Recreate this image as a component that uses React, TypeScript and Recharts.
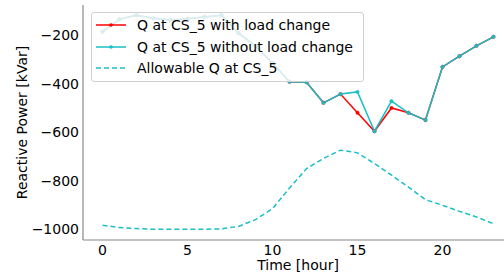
import { Label, Legend, Line, LineChart, XAxis, YAxis } from "recharts";

const hours = [0, 1, 2, 3, 4, 5, 6, 7, 8, 9, 10, 11, 12, 13, 14, 15, 16, 17, 18, 19, 20, 21, 22, 23];
const withChange = [-186, -134, -118, -131, -138, -133, -125, -118, -192, -245, -315, -392, -394, -479, -443, -520, -596, -500, -520, -550, -331, -287, -244, -207];
const withoutChange = [-186, -134, -118, -131, -138, -133, -125, -118, -192, -245, -315, -392, -394, -479, -443, -434, -596, -472, -520, -550, -331, -287, -244, -207];
const allowable = [-983, -993, -997, -1000, -1000, -1000, -1000, -998, -988, -960, -915, -830, -750, -708, -674, -685, -729, -777, -826, -878, -901, -926, -949, -977];
const xTicks = [0, 5, 10, 15, 20];
const yTicks = [-1000, -800, -600, -400, -200];

const RED = "#ff0000";
const CYAN = "#17bfc7";
const font = "'DejaVu Sans', sans-serif";

const legendItems = [
  { name: "Q at CS_5 with load change", color: RED, dash: undefined as string | undefined, dot: true },
  { name: "Q at CS_5 without load change", color: CYAN, dash: undefined, dot: true },
  { name: "Allowable Q at CS_5", color: CYAN, dash: "5 3", dot: false },
];

const data = hours.map((h, i) => ({
  hour: h,
  withChange: withChange[i],
  withoutChange: withoutChange[i],
  allowable: allowable[i],
}));

function LegendBox() {
  return (
    <div
      style={{
        width: 271,
        height: 67,
        background: "rgba(255,255,255,0.8)",
        border: "1px solid #d0d0d0",
        borderRadius: 3,
        paddingTop: 1,
        boxSizing: "content-box",
        fontFamily: font,
        fontSize: 14,
        color: "#000",
      }}
    >
      {legendItems.map((it) => (
        <div key={it.name} style={{ display: "flex", alignItems: "center", height: 21.7, whiteSpace: "nowrap" }}>
          <svg width={31} height={10} style={{ marginLeft: 3, marginRight: 11 }}>
            <line x1={1} x2={31} y1={5} y2={5} stroke={it.color} strokeWidth={1.5} strokeDasharray={it.dash} />
            {it.dot && <circle cx={16} cy={5} r={1.8} fill={it.color} />}
          </svg>
          <span>{it.name}</span>
        </div>
      ))}
    </div>
  );
}

export default function App() {
  return (
    <div style={{ position: "absolute", left: 0, top: 0, width: 504, height: 275, overflow: "hidden", background: "#fff" }}>
      <LineChart width={520} height={275} data={data} margin={{ top: 5, right: 7, left: 0, bottom: 0 }}>
        <XAxis
          xAxisId="top"
          orientation="top"
          dataKey="hour"
          type="number"
          domain={[-1.15, 24.15]}
          tick={false}
          tickLine={false}
          height={0}
          axisLine={{ stroke: "#444", strokeWidth: 1.2 }}
        />
        <XAxis
          dataKey="hour"
          type="number"
          domain={[-1.15, 24.15]}
          ticks={xTicks}
          tickLine={false}
          tickSize={0}
          tickMargin={5}
          height={35}
          axisLine={{ stroke: "#888", strokeWidth: 1.2 }}
          tick={{ fill: "#000", fontSize: 14, fontFamily: font }}
          allowDataOverflow
        >
          <Label
            content={() => (
              <text x={298} y={269.5} textAnchor="middle" fontSize={14} fontFamily={font} fill="#000">
                Time [hour]
              </text>
            )}
          />
        </XAxis>
        <YAxis
          type="number"
          domain={[-1044, -76]}
          ticks={yTicks}
          width={83}
          tickLine={false}
          tickSize={0}
          tickMargin={4}
          axisLine={{ stroke: "#888", strokeWidth: 1.2 }}
          tick={{ fill: "#000", fontSize: 14, fontFamily: font }}
          tickFormatter={(v: number) => String(v).replace("-", "\u2212")}
          allowDataOverflow
        >
          <Label
            content={() => (
              <text
                x={27}
                y={122.5}
                transform="rotate(-90 27 122.5)"
                textAnchor="middle"
                fontSize={14}
                fontFamily={font}
                fill="#000"
              >
                Reactive Power [kVar]
              </text>
            )}
          />
        </YAxis>
        <Line
          dataKey="withChange"
          name="Q at CS_5 with load change"
          stroke={RED}
          strokeWidth={1.5}
          dot={{ r: 1.7, fill: RED, stroke: RED, strokeWidth: 0.5 }}
          activeDot={false}
          isAnimationActive={false}
        />
        <Line
          dataKey="withoutChange"
          name="Q at CS_5 without load change"
          stroke={CYAN}
          strokeWidth={1.5}
          dot={{ r: 1.7, fill: CYAN, stroke: CYAN, strokeWidth: 0.5 }}
          activeDot={false}
          isAnimationActive={false}
        />
        <Line
          dataKey="allowable"
          name="Allowable Q at CS_5"
          stroke={CYAN}
          strokeWidth={1.5}
          strokeDasharray="5 3"
          dot={false}
          activeDot={false}
          isAnimationActive={false}
        />
        <Legend
          layout="horizontal"
          verticalAlign="middle"
          align="center"
          wrapperStyle={{ position: "absolute", left: 91, top: 12, width: "auto" }}
          content={() => <LegendBox />}
        />
      </LineChart>
    </div>
  );
}
